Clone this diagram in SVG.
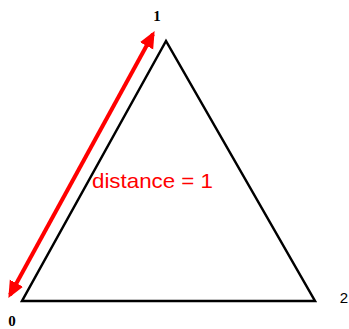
<svg xmlns="http://www.w3.org/2000/svg" width="349" height="329" viewBox="0 0 349 329">
<style>
.tri{fill:none;stroke:#000;stroke-width:2.5;stroke-linejoin:miter}
.lbl{font-family:"Liberation Serif",serif;font-size:15px;fill:#000;font-weight:bold}
.red{stroke:#f00;stroke-width:4;fill:none}
.dist{font-family:"Liberation Sans",sans-serif;font-size:21px;fill:#f00}
</style>
<defs>
<marker id="ah" viewBox="0 0 10 10" refX="8" refY="5" markerWidth="4.2" markerHeight="4.2" orient="auto-start-reverse" markerUnits="strokeWidth">
<path d="M0,0.5 L10,5 L0,9.5 z" fill="#f00"/>
</marker>
</defs>
<rect width="349" height="329" fill="#fff"/>
<g id="triangle">
<path class="tri" d="M166,41 L22,301 L315,301 Z"/>
</g>
<g id="node1"><text class="lbl" x="157" y="21" text-anchor="middle">1</text></g>
<g id="node0"><text class="lbl" x="12" y="326" text-anchor="middle">0</text></g>
<g id="node2"><text class="lbl" x="344" y="303" text-anchor="middle" style="font-family:'Liberation Sans',sans-serif;font-weight:normal">2</text></g>
<g id="connectors">
<line class="red" x1="10" y1="295" x2="153" y2="34" marker-start="url(#ah)" marker-end="url(#ah)"/>
</g>
<text class="dist" x="92" y="188" textLength="121" lengthAdjust="spacingAndGlyphs">distance = 1</text>
</svg>
